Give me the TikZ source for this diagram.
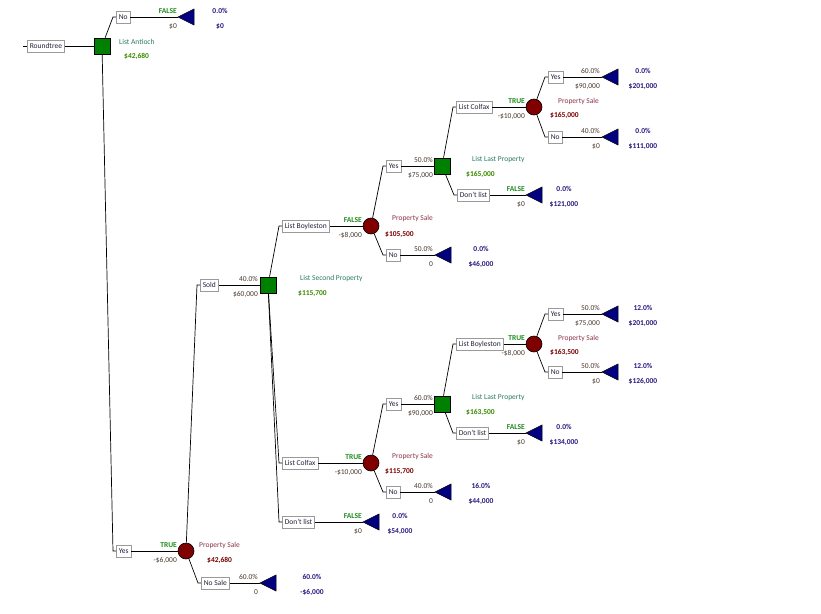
\documentclass[tikz,border=0pt]{standalone}
\usepackage{fontspec}
\setmainfont{Carlito}
\definecolor{decgreen}{HTML}{008000}
\definecolor{chred}{HTML}{800000}
\definecolor{trinavy}{HTML}{000080}
\definecolor{boxgray}{HTML}{9A9A9A}
\definecolor{boxtext}{HTML}{22223A}
\definecolor{tfgreen}{HTML}{1E8C1E}
\definecolor{valbrown}{HTML}{4A3A30}
\definecolor{termblue}{HTML}{2A1A80}
\definecolor{dnamec}{HTML}{2A7A66}
\definecolor{dvalc}{HTML}{3C8A00}
\definecolor{cnamec}{HTML}{8B3448}
\definecolor{cvalc}{HTML}{7A0000}
\tikzset{
 fs/.style={font=\fontsize{7.5}{8.5}\selectfont},
 fsb/.style={font=\fontsize{7.5}{8.5}\selectfont\bfseries},
 lbl/.style={fs, draw=boxgray, fill=white, text=boxtext, inner xsep=2.5pt, inner ysep=0pt, minimum height=12pt, line width=0.6pt, anchor=west},
 dec/.style={draw=black, fill=decgreen, minimum size=16pt, inner sep=0pt, line width=0.6pt},
 chn/.style={circle, draw=black, fill=chred, minimum size=16pt, inner sep=0pt, line width=0.6pt},
 txt/.style={fs, inner sep=0pt, text height=5pt, text depth=1.5pt},
 tf/.style={txt, fsb, text=tfgreen, anchor=east},
 pr/.style={txt, text=valbrown, anchor=east},
 bv/.style={txt, text=valbrown, anchor=east},
 term/.style={txt, fsb, text=termblue},
 dname/.style={txt, text=dnamec, anchor=west},
 dval/.style={txt, fsb, text=dvalc, anchor=west},
 cname/.style={txt, text=cnamec, anchor=west},
 cval/.style={txt, fsb, text=cvalc, anchor=west},
 br/.style={line width=0.7pt, draw=black},
 tri/.style={fill=trinavy, draw=black, line width=0.5pt, line join=miter}
}
\newcommand\tipnode[2]{\coordinate (#1) at (#2); \filldraw[tri] (#1) -- ++(16,-8) -- ++(0,16) -- cycle;}
\newcommand\brtxt[6]{\node[#4] (#1u) at (#2,#3-5.5) {#5}; \node[bv] (#1d) at (#2,#3+9.5) {#6};}
\newcommand\termtxt[5]{\node[term] (#1u) at (#2,#3-5.5) {#4}; \node[term] (#1d) at (#2,#3+9.5) {#5};}
\newcommand\conn[3]{\draw[br] (#1) -- ([xshift=-3pt]#2.west) -- (#2.west); \draw[br] (#2.east) -- (#3);}
\begin{document}
\begin{tikzpicture}[x=1pt,y=-1pt]
\useasboundingbox[fill=white] (0,0) rectangle (821,613);
% root
\coordinate (start) at (23,46);
\node[lbl] (rt) at (27,46) {Roundtree};
\node[dec] (D1) at (102,46) {};
\draw[br] (start) -- (rt.west);
\draw[br] (rt.east) -- (D1);
\node[dname] (D1n) at (119,43) {List Antioch};
\node[dval] (D1v) at (124,57) {\$42,680};
% D1 -> No
\node[lbl] (b1) at (116,17) {No};
\tipnode{T1}{178,17}
\conn{D1}{b1}{T1}
\brtxt{l1}{177}{17}{tf}{FALSE}{\$0}
\termtxt{e1}{220}{17}{0.0\%}{\$0}
% D1 -> Yes
\node[lbl] (b2) at (116,551) {Yes};
\node[chn] (C1) at (186,551) {};
\conn{D1}{b2}{C1}
\brtxt{l2}{177}{551}{tf}{TRUE}{-\$6,000}
\node[cname] (C1n) at (199,546) {Property Sale};
\node[cval] (C1v) at (207,561) {\$42,680};
% C1 -> Sold
\node[lbl] (b3) at (200,285) {Sold};
\node[dec] (D2) at (268,285) {};
\conn{C1}{b3}{D2}
\brtxt{l3}{258}{285}{pr}{40.0\%}{\$60,000}
\node[dname] (D2n) at (300,279) {List Second Property};
\node[dval] (D2v) at (298,294) {\$115,700};
% C1 -> No Sale
\node[lbl] (b4) at (201,583) {No Sale};
\tipnode{T4}{260,583}
\conn{C1}{b4}{T4}
\brtxt{l4}{258}{583}{pr}{60.0\%}{0}
\termtxt{e4}{312}{583}{60.0\%}{-\$6,000}
% D2 -> List Boyleston
\node[lbl] (b5) at (282,226) {List Boyleston};
\node[chn] (C2) at (371,226) {};
\conn{D2}{b5}{C2}
\brtxt{l5}{362}{226}{tf}{FALSE}{-\$8,000}
\node[cname] (C2n) at (392,219) {Property Sale};
\node[cval] (C2v) at (385,235) {\$105,500};
% D2 -> List Colfax
\node[lbl] (b6) at (282,463) {List Colfax};
\node[chn] (C3) at (371,463) {};
\conn{D2}{b6}{C3}
\brtxt{l6}{362}{463}{tf}{TRUE}{-\$10,000}
\node[cname] (C3n) at (392,457) {Property Sale};
\node[cval] (C3v) at (385,472) {\$115,700};
% D2 -> Don't list
\node[lbl] (b7) at (282,522) {Don't list};
\tipnode{T7}{363,522}
\conn{D2}{b7}{T7}
\brtxt{l7}{362}{522}{tf}{FALSE}{\$0}
\termtxt{e7}{400}{522}{0.0\%}{\$54,000}
% C2 -> Yes
\node[lbl] (b8) at (386,166) {Yes};
\node[dec] (D3) at (442,166) {};
\conn{C2}{b8}{D3}
\brtxt{l8}{433}{166}{pr}{50.0\%}{\$75,000}
\node[dname] (D3n) at (472,160) {List Last Property};
\node[dval] (D3v) at (466,175) {\$165,000};
% C2 -> No
\node[lbl] (b9) at (386,255) {No};
\tipnode{T9}{435,255}
\conn{C2}{b9}{T9}
\brtxt{l9}{433}{255}{pr}{50.0\%}{0}
\termtxt{e9}{481}{255}{0.0\%}{\$46,000}
% D3 -> List Colfax
\node[lbl] (b10) at (456,107) {List Colfax};
\node[chn] (C4) at (534,107) {};
\conn{D3}{b10}{C4}
\brtxt{l10}{525}{107}{tf}{TRUE}{-\$10,000}
\node[cname] (C4n) at (558,102) {Property Sale};
\node[cval] (C4v) at (550,116) {\$165,000};
% D3 -> Don't list
\node[lbl] (b11) at (457,195) {Don't list};
\tipnode{T11}{526,195}
\conn{D3}{b11}{T11}
\brtxt{l11}{525}{195}{tf}{FALSE}{\$0}
\termtxt{e11}{564}{195}{0.0\%}{\$121,000}
% C4 -> Yes / No
\node[lbl] (b12) at (548,77) {Yes};
\tipnode{T12}{602,77}
\conn{C4}{b12}{T12}
\brtxt{l12}{600}{77}{pr}{60.0\%}{\$90,000}
\termtxt{e12}{643}{77}{0.0\%}{\$201,000}
\node[lbl] (b13) at (548,137) {No};
\tipnode{T13}{602,137}
\conn{C4}{b13}{T13}
\brtxt{l13}{600}{137}{pr}{40.0\%}{\$0}
\termtxt{e13}{643}{137}{0.0\%}{\$111,000}
% C3 -> Yes
\node[lbl] (b14) at (386,404) {Yes};
\node[dec] (D4) at (442,404) {};
\conn{C3}{b14}{D4}
\brtxt{l14}{433}{404}{pr}{60.0\%}{\$90,000}
\node[dname] (D4n) at (472,398) {List Last Property};
\node[dval] (D4v) at (466,413) {\$163,500};
% C3 -> No
\node[lbl] (b15) at (386,492) {No};
\tipnode{T15}{435,492}
\conn{C3}{b15}{T15}
\brtxt{l15}{433}{492}{pr}{40.0\%}{0}
\termtxt{e15}{481}{492}{16.0\%}{\$44,000}
% D4 -> List Boyleston
\node[lbl] (b16) at (456,344) {List Boyleston};
\node[chn] (C5) at (534,344) {};
\conn{D4}{b16}{C5}
\brtxt{l16}{525}{344}{tf}{TRUE}{-\$8,000}
\node[cname] (C5n) at (558,339) {Property Sale};
\node[cval] (C5v) at (550,353) {\$163,500};
% D4 -> Don't list
\node[lbl] (b17) at (456,433) {Don't list};
\tipnode{T17}{526,433}
\conn{D4}{b17}{T17}
\brtxt{l17}{525}{433}{tf}{FALSE}{\$0}
\termtxt{e17}{564}{433}{0.0\%}{\$134,000}
% C5 -> Yes / No
\node[lbl] (b18) at (548,314) {Yes};
\tipnode{T18}{602,314}
\conn{C5}{b18}{T18}
\brtxt{l18}{600}{314}{pr}{50.0\%}{\$75,000}
\termtxt{e18}{643}{314}{12.0\%}{\$201,000}
\node[lbl] (b19) at (548,372) {No};
\tipnode{T19}{602,372}
\conn{C5}{b19}{T19}
\brtxt{l19}{600}{372}{pr}{50.0\%}{\$0}
\termtxt{e19}{643}{372}{12.0\%}{\$126,000}
\end{tikzpicture}
\end{document}
